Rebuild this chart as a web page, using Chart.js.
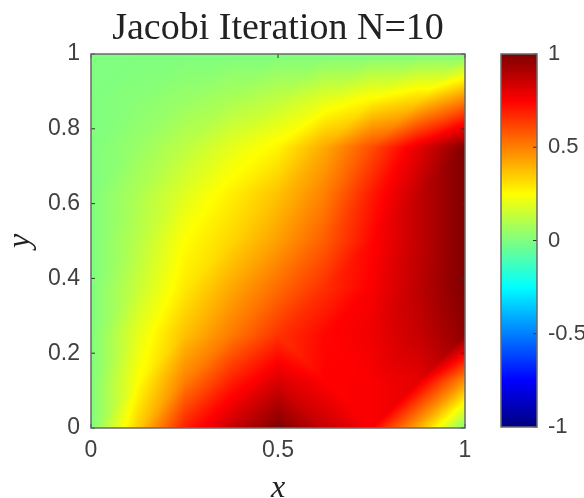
<!DOCTYPE html>
<html>
<head>
<meta charset="utf-8">
<script src="https://cdn.jsdelivr.net/npm/chart.js@4"></script>
<style>
  body { margin: 0; background: #fff; }
  #wrap { position: relative; width: 584px; height: 498px; }
  canvas { position: absolute; top: 0; }
</style>
</head>
<body>
<div id="wrap">
  <canvas id="heatChart" width="584" height="498" style="left:0"></canvas>
  <canvas id="barChart" width="104" height="498" style="left:480px"></canvas>
</div>
<script>
var gridX = [0, 0.125, 0.25, 0.375, 0.5, 0.625, 0.75, 0.875, 1];
var gridY = [0, 0.125, 0.25, 0.375, 0.5, 0.625, 0.75, 0.875, 1];
// solution values, one list per y row
var uRow0 = [0, 0.345, 0.69, 0.86, 1, 0.86, 0.76, 0.41, 0];
var uRow1 = [0, 0.245, 0.5, 0.69, 0.825, 0.75, 0.76, 0.8, 0.46];
var uRow2 = [0, 0.2, 0.37, 0.51, 0.65, 0.74, 0.78, 0.86, 0.97];
var uRow3 = [0, 0.14, 0.29, 0.42, 0.54, 0.66, 0.76, 0.88, 1];
var uRow4 = [0, 0.11, 0.25, 0.33, 0.44, 0.57, 0.74, 0.87, 1];
var uRow5 = [0, 0.09, 0.19, 0.28, 0.37, 0.5, 0.7, 0.87, 1];
var uRow6 = [0, 0.05, 0.12, 0.2, 0.27, 0.42, 0.6, 0.8, 1];
var uRow7 = [0, 0.02, 0.05, 0.085, 0.13, 0.2, 0.27, 0.34, 0.5];
var uRow8 = [0, 0, 0, 0, 0, 0, 0, 0, 0];
var xTicks = [0, 0.5, 1];
var yTicks = [0, 0.2, 0.4, 0.6, 0.8, 1];
var barTicks = [-1, -0.5, 0, 0.5, 1];
var barRange = [-1, 1];
// mesh cells (column, row) split along the falling diagonal instead
var flippedCells = ["4,0", "5,0", "4,1", "5,1"];

var rows = [uRow0, uRow1, uRow2, uRow3, uRow4, uRow5, uRow6, uRow7, uRow8];
var labelColor = "#404040";

function clamp(v) {
  return Math.max(0, Math.min(1, v));
}

// matlab jet colormap, t from 0 to 1
function jet(t) {
  return [
    Math.round(255 * clamp(1.5 - Math.abs(4 * t - 3))),
    Math.round(255 * clamp(1.5 - Math.abs(4 * t - 2))),
    Math.round(255 * clamp(1.5 - Math.abs(4 * t - 1)))
  ];
}

function cellIndex(grid, v) {
  for (var i = 0; i < grid.length - 2; i++) {
    if (v < grid[i + 1]) return i;
  }
  return grid.length - 2;
}

// each grid cell is two triangles
function valueAt(x, y) {
  var i = cellIndex(gridX, x);
  var j = cellIndex(gridY, y);
  var fx = (x - gridX[i]) / (gridX[i + 1] - gridX[i]);
  var fy = (y - gridY[j]) / (gridY[j + 1] - gridY[j]);
  var u00 = rows[j][i], u10 = rows[j][i + 1];
  var u01 = rows[j + 1][i], u11 = rows[j + 1][i + 1];
  if (flippedCells.indexOf(i + "," + j) >= 0) {
    if (fx + fy <= 1) return u00 + fx * (u10 - u00) + fy * (u01 - u00);
    return u11 + (1 - fx) * (u01 - u11) + (1 - fy) * (u10 - u11);
  }
  if (fx >= fy) return u00 + fx * (u10 - u00) + fy * (u11 - u10);
  return u00 + fy * (u01 - u00) + fx * (u11 - u01);
}

var surfacePlugin = {
  id: "surface",
  beforeDatasetsDraw: function(chart) {
    var a = chart.chartArea;
    var w = Math.round(a.right - a.left);
    var h = Math.round(a.bottom - a.top);
    var img = chart.ctx.createImageData(w, h);
    for (var py = 0; py < h; py++) {
      var y = chart.scales.y.getValueForPixel(a.top + py + 0.5);
      for (var px = 0; px < w; px++) {
        var x = chart.scales.x.getValueForPixel(a.left + px + 0.5);
        var c = jet((valueAt(x, y) + 1) / 2);
        var k = 4 * (py * w + px);
        img.data[k] = c[0];
        img.data[k + 1] = c[1];
        img.data[k + 2] = c[2];
        img.data[k + 3] = 255;
      }
    }
    chart.ctx.putImageData(img, a.left, a.top);
  }
};

// axes box and inward ticks
var boxPlugin = {
  id: "box",
  afterDraw: function(chart) {
    var a = chart.chartArea;
    var ctx = chart.ctx;
    ctx.save();
    ctx.strokeStyle = "#303030";
    ctx.lineWidth = 1;
    ctx.beginPath();
    if (chart.scales.x.options.display) {
      chart.scales.x.ticks.forEach(function(t) {
        var p = chart.scales.x.getPixelForValue(t.value);
        ctx.moveTo(p, a.bottom);
        ctx.lineTo(p, a.bottom - 4);
        ctx.moveTo(p, a.top);
        ctx.lineTo(p, a.top + 4);
      });
    }
    chart.scales.y.ticks.forEach(function(t) {
      var p = chart.scales.y.getPixelForValue(t.value);
      if (chart.scales.x.options.display) {
        ctx.moveTo(a.left, p);
        ctx.lineTo(a.left + 4, p);
      }
      ctx.moveTo(a.right, p);
      ctx.lineTo(a.right - 4, p);
    });
    ctx.stroke();
    ctx.strokeStyle = "#6a6a6a";
    ctx.lineWidth = 1.5;
    ctx.strokeRect(a.left, a.top, a.right - a.left, a.bottom - a.top);
    ctx.restore();
  }
};

function nodes() {
  var pts = [];
  for (var j = 0; j < gridY.length; j++) {
    for (var i = 0; i < gridX.length; i++) {
      pts.push({ x: gridX[i], y: gridY[j], u: rows[j][i] });
    }
  }
  return pts;
}

function setTicks(list) {
  return function(scale) {
    scale.ticks = list.map(function(v) { return { value: v }; });
  };
}

function tickText(v) {
  return String(v);
}

var tickFont = { family: "'Liberation Sans', Arial, sans-serif", size: 23 };
var barFont = { family: "'Liberation Sans', Arial, sans-serif", size: 22 };
var mathFont = { family: "'Liberation Serif', serif", size: 32, style: "italic", lineHeight: 0.6 };

new Chart(document.getElementById("heatChart"), {
  type: "scatter",
  data: { datasets: [{ data: nodes(), pointRadius: 0, showLine: false }] },
  plugins: [surfacePlugin, boxPlugin],
  options: {
    responsive: false,
    animation: false,
    layout: { padding: { left: 0, right: 119, top: 0, bottom: 0 } },
    plugins: {
      legend: { display: false },
      tooltip: { enabled: false },
      title: {
        display: true,
        text: "Jacobi Iteration N=10",
        fullSize: false,
        color: "#222",
        font: { family: "'Liberation Serif', serif", size: 38, weight: "normal", lineHeight: 1.2 },
        padding: { top: 6, bottom: 2.4 }
      }
    },
    scales: {
      x: {
        type: "linear",
        min: 0,
        max: 1,
        grid: { display: false, drawTicks: false },
        border: { display: false },
        afterBuildTicks: setTicks(xTicks),
        afterFit: function(scale) { scale.height = 70; },
        ticks: { color: labelColor, font: tickFont, padding: 9, maxRotation: 0, callback: tickText },
        title: { display: true, text: "x", color: "#222", font: mathFont, padding: { top: 0, bottom: 0 } }
      },
      y: {
        type: "linear",
        min: 0,
        max: 1,
        grid: { display: false, drawTicks: false },
        border: { display: false },
        afterBuildTicks: setTicks(yTicks),
        afterFit: function(scale) { scale.width = 91; },
        ticks: { color: labelColor, font: tickFont, padding: 11, callback: tickText },
        title: { display: true, text: "y", color: "#222", font: mathFont, padding: { top: 11, bottom: 0 } }
      }
    }
  }
});

function barGradient(context) {
  var chart = context.chart;
  if (!chart.chartArea) return "#fff";
  var g = chart.ctx.createLinearGradient(0, chart.chartArea.bottom, 0, chart.chartArea.top);
  for (var s = 0; s <= 64; s++) {
    var c = jet(s / 64);
    g.addColorStop(s / 64, "rgb(" + c.join(",") + ")");
  }
  return g;
}

new Chart(document.getElementById("barChart"), {
  type: "bar",
  data: {
    labels: ["u"],
    datasets: [{ data: [barRange], backgroundColor: barGradient, barPercentage: 1, categoryPercentage: 1 }]
  },
  plugins: [boxPlugin],
  options: {
    responsive: false,
    animation: false,
    layout: { padding: { left: 21, right: 0, top: 54, bottom: 71 } },
    plugins: { legend: { display: false }, tooltip: { enabled: false } },
    scales: {
      x: { display: false },
      y: {
        position: "right",
        min: -1,
        max: 1,
        grid: { display: false, drawTicks: false },
        border: { display: false },
        afterBuildTicks: setTicks(barTicks),
        afterFit: function(scale) { scale.width = 47; },
        ticks: { color: labelColor, font: barFont, padding: 11, callback: tickText }
      }
    }
  }
});
</script>
</body>
</html>
